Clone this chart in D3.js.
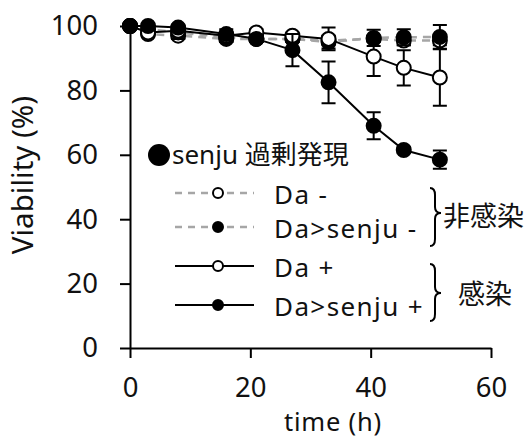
<!DOCTYPE html>
<html>
<head>
<meta charset="utf-8">
<script src="https://cdn.jsdelivr.net/npm/d3@7"></script>
<style>
  body { margin: 0; background: #fff; }
  text { font-family: "Noto Sans", "Noto Sans CJK JP", sans-serif; fill: #111; }
</style>
</head>
<body>
<div class="chart"></div>
<script>
// data
var times = [0, 3, 8, 16, 21, 27, 33, 40.5, 45.5, 51.5];

var daMinus = [100, 97.5, 97, 96, 96, 96, 95.5, 96, 95.5, 95.5];
var daMinusErr = [0, 1, 1, 1, 1, 1, 1.5, 1, 1.5, 1.5];

var senjuMinus = [100, 99, 98, 96.5, 96, 96, 95, 96.3, 96.5, 96.6];
var senjuMinusErr = [0, 1, 2, 1.5, 1, 1, 2, 2.5, 2.5, 3.7];

var daPlus = [100, 98, 98.5, 97, 98, 97, 96, 90.5, 87, 84];
var daPlusErr = [0, 1, 1.5, 1, 1, 1, 3.5, 6, 5.5, 8.8];

var senjuPlus = [100, 100, 99.5, 97.5, 96, 92.5, 82.5, 69, 61.5, 58.5];
var senjuPlusErr = [0, 0.5, 1, 1.5, 1, 5, 6.5, 4.2, 1, 2.8];

var xTicks = [0, 20, 40, 60];
var yTicks = [0, 20, 40, 60, 80, 100];

var legendLabels = ["Da -", "Da>senju -", "Da +", "Da>senju +"];
var groupLabels = ["非感染", "感染"];

// SVG size
var svgWidth = 528;
var svgHeight = 439;

var svg = d3.select(".chart")
    .append("svg")
    .attr("width", svgWidth)
    .attr("height", svgHeight);

var x = d3.scaleLinear().domain([0, 60]).range([130, 491]);
var y = d3.scaleLinear().domain([0, 100]).range([348, 26]);

// axes
var xAxis = svg.append("g")
    .attr("transform", "translate(0," + y(0) + ")")
    .call(d3.axisBottom(x).tickValues(xTicks).tickSize(10).tickSizeOuter(0).tickPadding(19));

var yAxis = svg.append("g")
    .attr("transform", "translate(" + x(0) + ",0)")
    .call(d3.axisLeft(y).tickValues(yTicks).tickSize(10).tickSizeOuter(0).tickPadding(22));

[xAxis, yAxis].forEach(function(ax) {
    ax.selectAll("path, line").attr("stroke", "#000").attr("stroke-width", 2);
    ax.selectAll("text").attr("font-size", 27.5).attr("fill", "#111")
        .style("font-family", "'Noto Sans', sans-serif");
});

// axis titles
svg.append("text")
    .attr("x", 333)
    .attr("y", 431)
    .attr("text-anchor", "middle")
    .attr("font-size", 25.5)
    .attr("letter-spacing", 0.8)
    .text("time (h)");

svg.append("text")
    .attr("transform", "translate(33,175) rotate(-90)")
    .attr("text-anchor", "middle")
    .attr("font-size", 29.5)
    .text("Viability (%)");

// series: drawn in this order so filled markers sit over open ones
var series = [
    { vals: daMinus, err: daMinusErr, filled: false, dashed: true },
    { vals: senjuMinus, err: senjuMinusErr, filled: true, dashed: true },
    { vals: daPlus, err: daPlusErr, filled: false, dashed: false },
    { vals: senjuPlus, err: senjuPlusErr, filled: true, dashed: false }
];

var line = d3.line()
    .x(function(d) { return x(d[0]); })
    .y(function(d) { return y(d[1]); });

// lines first
series.forEach(function(s) {
    var pts = times.map(function(t, i) { return [t, s.vals[i]]; });
    svg.append("path")
        .attr("d", line(pts))
        .attr("fill", "none")
        .attr("stroke", s.dashed ? "#a6a6a6" : "#000")
        .attr("stroke-width", s.dashed ? 2.5 : 2)
        .attr("stroke-dasharray", s.dashed ? "8,6" : null);
});

// error bars and markers
series.forEach(function(s) {
    var g = svg.append("g");
    var rows = times.map(function(t, i) { return { t: t, v: s.vals[i], e: s.err[i] }; })
        .filter(function(d) { return d.e > 0; });

    g.selectAll(".eb")
        .data(rows)
        .enter()
        .append("path")
        .attr("d", function(d) {
            var cx = x(d.t), y0 = y(d.v - d.e), y1 = y(d.v + d.e);
            return "M" + cx + "," + y0 + "V" + y1 +
                "M" + (cx - 7) + "," + y0 + "H" + (cx + 7) +
                "M" + (cx - 7) + "," + y1 + "H" + (cx + 7);
        })
        .attr("stroke", "#000")
        .attr("stroke-width", 2)
        .attr("fill", "none");

    g.selectAll("circle")
        .data(times)
        .enter()
        .append("circle")
        .attr("cx", function(d) { return x(d); })
        .attr("cy", function(d, i) { return y(s.vals[i]); })
        .attr("r", 7)
        .attr("fill", s.filled ? "#000" : "#fff")
        .attr("stroke", "#000")
        .attr("stroke-width", 2);
});

// legend header
svg.append("circle")
    .attr("cx", 159)
    .attr("cy", 155)
    .attr("r", 11)
    .attr("fill", "#000");

svg.append("text")
    .attr("x", 172)
    .attr("y", 164)
    .attr("font-size", 26)
    .text("senju 過剰発現");

// legend rows
var legendY = [193, 227, 266, 305];

legendLabels.forEach(function(label, i) {
    var s = series[i];
    var ly = legendY[i];
    svg.append("line")
        .attr("x1", 175).attr("x2", 254)
        .attr("y1", ly).attr("y2", ly)
        .attr("stroke", s.dashed ? "#a6a6a6" : "#000")
        .attr("stroke-width", s.dashed ? 2.5 : 2)
        .attr("stroke-dasharray", s.dashed ? "7,6" : null);
    svg.append("circle")
        .attr("cx", 218).attr("cy", ly)
        .attr("r", 5)
        .attr("fill", s.filled ? "#000" : "#fff")
        .attr("stroke", "#000")
        .attr("stroke-width", 2);
    svg.append("text")
        .attr("x", 274)
        .attr("y", ly + 11)
        .attr("font-size", 26)
        .attr("letter-spacing", 1.4)
        .text(label);
});

// braces grouping the rows
function brace(x0, y0, y1, ym) {
    var xs = x0 + 5, xt = x0 + 11;
    return "M" + x0 + "," + y0 +
        "Q" + xs + "," + y0 + " " + xs + "," + (y0 + 7) +
        "L" + xs + "," + (ym - 6) +
        "Q" + xs + "," + ym + " " + xt + "," + ym +
        "Q" + xs + "," + ym + " " + xs + "," + (ym + 6) +
        "L" + xs + "," + (y1 - 7) +
        "Q" + xs + "," + y1 + " " + x0 + "," + y1;
}

var braces = [
    { y0: 188, y1: 246, ym: 213, tx: 443, ty: 226 },
    { y0: 264, y1: 321, ym: 293, tx: 458, ty: 304 }
];

braces.forEach(function(b, i) {
    svg.append("path")
        .attr("d", brace(430, b.y0, b.y1, b.ym))
        .attr("fill", "none")
        .attr("stroke", "#000")
        .attr("stroke-width", 2);
    svg.append("text")
        .attr("x", b.tx)
        .attr("y", b.ty)
        .attr("font-size", 27)
        .text(groupLabels[i]);
});
</script>
</body>
</html>
